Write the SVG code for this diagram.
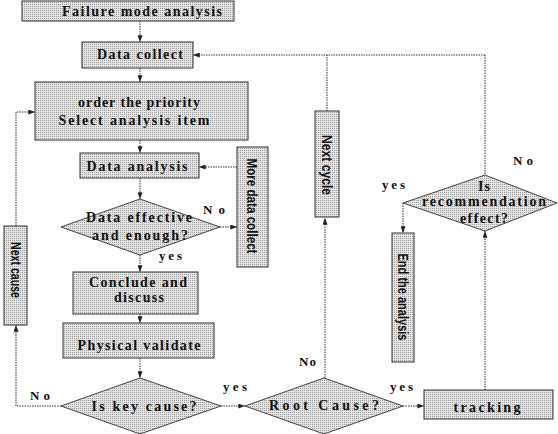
<svg xmlns="http://www.w3.org/2000/svg" width="558" height="434" viewBox="0 0 558 434">
<defs>
<pattern id="dots" patternUnits="userSpaceOnUse" width="2" height="2">
<rect width="2" height="2" fill="#e4e4e4"/>
<rect width="1" height="1" fill="#9c9c9c"/>
</pattern>
<marker id="ah" viewBox="0 0 8 6" refX="8" refY="3" markerWidth="7" markerHeight="5" orient="auto" markerUnits="userSpaceOnUse">
<path d="M0,0 L8,3 L0,6 Z" fill="#222"/>
</marker>
</defs>
<style>
.box{fill:url(#dots);stroke:#333;stroke-width:1}
.dia{fill:url(#dots);stroke:#444;stroke-width:1}
.t{font-family:"Liberation Serif","Times New Roman",serif;font-weight:bold;font-size:14px;fill:#111;text-anchor:middle}
.v{font-family:"Liberation Sans Narrow","Liberation Sans",Arial,sans-serif;font-weight:bold;font-size:14px;fill:#111;text-anchor:middle;dominant-baseline:central}
.lbl{font-family:"Liberation Serif","Times New Roman",serif;font-weight:bold;font-size:13px;fill:#111}
.c{fill:none;stroke:#333;stroke-width:1;stroke-dasharray:1.5 1}
.ca{fill:none;stroke:#333;stroke-width:1;stroke-dasharray:1.5 1;marker-end:url(#ah)}
</style>
<rect width="558" height="434" fill="#fff"/>

<g id="connectors">
<path class="ca" d="M140,21 V42"/>
<path class="ca" d="M140,68 V82"/>
<path class="ca" d="M140,140 V153"/>
<path class="ca" d="M140,178 V199"/>
<path class="ca" d="M140,255 V272"/>
<path class="ca" d="M140,314 V323"/>
<path class="ca" d="M140,358 V378"/>
<path class="ca" d="M220,227 H237"/>
<path class="ca" d="M237,167 H199"/>
<path class="ca" d="M61,406 H16 V325"/>
<path class="ca" d="M16,226 V112 H35"/>
<path class="ca" d="M221,406 H245"/>
<path class="ca" d="M325,378 V218"/>
<path class="c" d="M327,111 V55"/>
<path class="ca" d="M485,55 H193"/>
<path class="c" d="M485,55 V175"/>
<path class="ca" d="M403,203 V233"/>
<path class="ca" d="M485,390 V231"/>
<path class="ca" d="M403,406 H424"/>
</g>

<g id="failure-mode">
<rect class="box" x="22" y="1" width="212" height="20"/>
<text class="t" x="142" y="16" textLength="160" lengthAdjust="spacing">Failure mode analysis</text>
</g>
<g id="data-collect">
<rect class="box" x="82" y="42" width="111" height="26"/>
<text class="t" x="140" y="59" textLength="86" lengthAdjust="spacing">Data collect</text>
</g>
<g id="order-priority">
<rect class="box" x="35" y="82" width="213" height="58"/>
<text class="t" x="139" y="107" textLength="122" lengthAdjust="spacing">order the priority</text>
<text class="t" x="134" y="125" textLength="151" lengthAdjust="spacing">Select analysis item</text>
</g>
<g id="data-analysis">
<rect class="box" x="80" y="153" width="119" height="25"/>
<text class="t" x="137" y="171" textLength="101" lengthAdjust="spacing">Data analysis</text>
</g>
<g id="data-effective">
<polygon class="dia" points="140,199 220,227 140,255 61,227"/>
<text class="t" x="139" y="222" textLength="106" lengthAdjust="spacing">Data effective</text>
<text class="t" x="140" y="240" textLength="96" lengthAdjust="spacing">and enough?</text>
</g>
<g id="more-data">
<rect class="box" x="237" y="147" width="31" height="120"/>
<text class="v" transform="translate(252,206) rotate(90)" textLength="95" lengthAdjust="spacingAndGlyphs">More data collect</text>
</g>
<g id="conclude">
<rect class="box" x="73" y="272" width="125" height="42"/>
<text class="t" x="138" y="287" textLength="98" lengthAdjust="spacing">Conclude and</text>
<text class="t" x="139" y="302" textLength="50" lengthAdjust="spacing">discuss</text>
</g>
<g id="physical">
<rect class="box" x="63" y="323" width="151" height="35"/>
<text class="t" x="139" y="350" textLength="123" lengthAdjust="spacing">Physical validate</text>
</g>
<g id="key-cause">
<polygon class="dia" points="140,378 221,406 140,434 61,406"/>
<text class="t" x="144" y="411" textLength="105" lengthAdjust="spacing">Is key cause?</text>
</g>
<g id="next-cause">
<rect class="box" x="4" y="226" width="23" height="99"/>
<text class="v" transform="translate(16,270) rotate(90)" textLength="56" lengthAdjust="spacingAndGlyphs">Next cause</text>
</g>
<g id="root-cause">
<polygon class="dia" points="324,378 403,406 324,434 245,406"/>
<text class="t" x="324" y="410" textLength="110" lengthAdjust="spacing">Root Cause?</text>
</g>
<g id="next-cycle">
<rect class="box" x="315" y="111" width="24" height="106"/>
<text class="v" transform="translate(327,165) rotate(90)" textLength="60" lengthAdjust="spacingAndGlyphs">Next cycle</text>
</g>
<g id="recommendation">
<polygon class="dia" points="485,175 557,203 485,231 403,203"/>
<text class="t" x="484" y="191" textLength="12" lengthAdjust="spacing">Is</text>
<text class="t" x="484" y="206" textLength="124" lengthAdjust="spacing">recommendation</text>
<text class="t" x="484" y="223" textLength="48" lengthAdjust="spacing">effect?</text>
</g>
<g id="end-analysis">
<rect class="box" x="392" y="233" width="22" height="129"/>
<text class="v" transform="translate(403,297) rotate(90)" textLength="87" lengthAdjust="spacingAndGlyphs">End the analysis</text>
</g>
<g id="tracking">
<rect class="box" x="424" y="390" width="129" height="29"/>
<text class="t" x="487" y="412" textLength="67" lengthAdjust="spacing">tracking</text>
</g>

<g id="labels">
<text class="lbl" x="203" y="214" textLength="22" lengthAdjust="spacing">No</text>
<text class="lbl" x="159" y="260" textLength="23" lengthAdjust="spacing">yes</text>
<text class="lbl" x="30" y="400" textLength="20" lengthAdjust="spacing">No</text>
<text class="lbl" x="223" y="391" textLength="24" lengthAdjust="spacing">yes</text>
<text class="lbl" x="299" y="366" textLength="17" lengthAdjust="spacing">No</text>
<text class="lbl" x="390" y="391" textLength="23" lengthAdjust="spacing">yes</text>
<text class="lbl" x="513" y="165" textLength="20" lengthAdjust="spacing">No</text>
<text class="lbl" x="382" y="189" textLength="23" lengthAdjust="spacing">yes</text>
</g>
</svg>
